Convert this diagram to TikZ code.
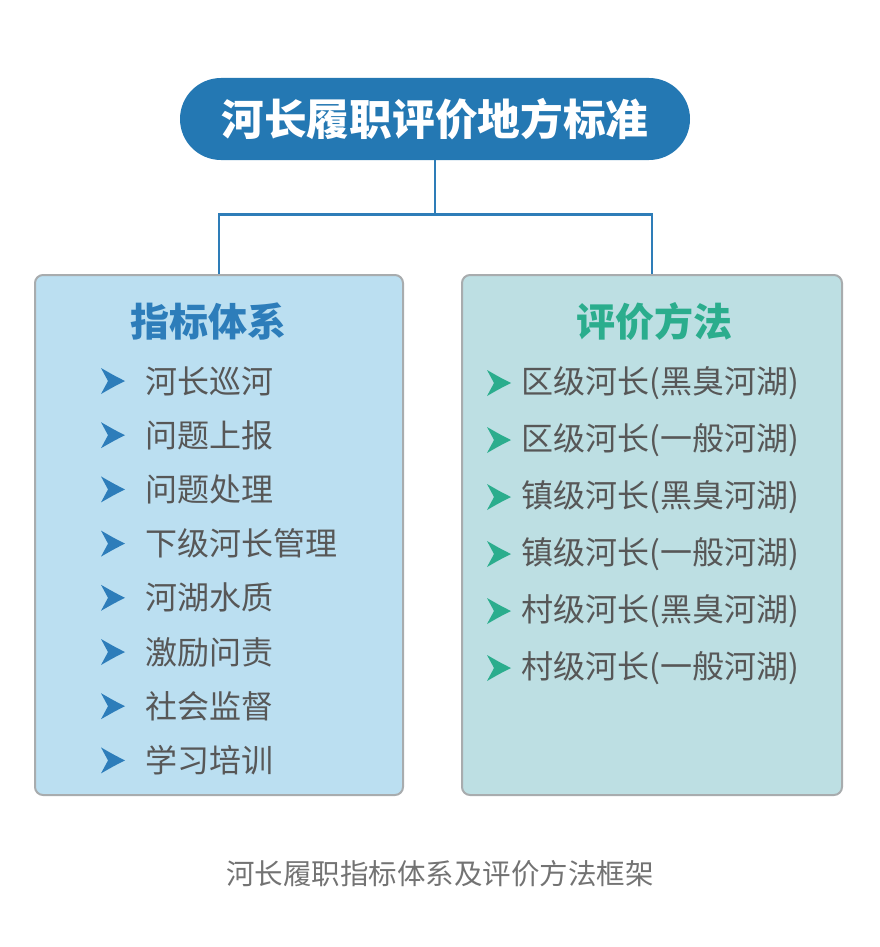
\documentclass[tikz,border=0pt]{standalone}
\usepackage{fontspec}
\setmainfont{Noto Sans CJK SC}
\definecolor{titleblue}{HTML}{2478B3}
\definecolor{linkblue}{HTML}{2E7DB8}
\definecolor{leftfill}{HTML}{BBDFF1}
\definecolor{rightfill}{HTML}{BDDFE3}
\definecolor{boxborder}{HTML}{A8ACAE}
\definecolor{headblue}{HTML}{2D7DBA}
\definecolor{headteal}{HTML}{2BAD8D}
\definecolor{itemgray}{HTML}{575757}
\definecolor{capgray}{HTML}{737373}
\tikzset{
  x=1pt, y=-1pt,
  titlebox/.style={fill=titleblue, rounded corners=41pt, minimum width=510pt, minimum height=82pt, inner sep=0pt,
    text=white, font=\fontsize{42.7}{48}\selectfont\bfseries},
  panel/.style={draw=boxborder, line width=2pt, rounded corners=8pt, inner sep=0pt},
  conn/.style={draw=linkblue, line width=2.6pt},
  heading/.style={font=\fontsize{39}{44}\selectfont\bfseries, inner sep=0pt},
  item/.style={font=\fontsize{32}{36}\selectfont, text=itemgray, anchor=west, inner sep=0pt},
  caption/.style={font=\fontsize{28.5}{32}\selectfont, text=capgray, inner sep=0pt},
  chev/.pic={\fill[#1] (12,0) .. controls (2,-5) .. (-12,-13) -- (-5,0) -- (-12,13) .. controls (2,5) .. (12,0) -- cycle;}
}
\begin{document}
\begin{tikzpicture}
\useasboundingbox (0,0) rectangle (880,947);
% title
\node[titlebox] (title) at (435,119) {河长履职评价地方标准};
% panels
\node[panel, fill=leftfill, minimum width=368pt, minimum height=520pt] (lb) at (219,535) {};
\node[panel, fill=rightfill, minimum width=380pt, minimum height=520pt] (rb) at (652,535) {};
% connectors
\draw[conn] (title.south) -- ++(0,54) coordinate (j);
\draw[conn] (j) -| (lb.north);
\draw[conn] (j) -| (rb.north);
% headings
\node[heading, text=headblue] (lh) at (208,322) {指标体系};
\node[heading, text=headteal] (rh) at (654,322) {评价方法};
% left items
\foreach \t [count=\i] in {河长巡河,问题上报,问题处理,下级河长管理,河湖水质,激励问责,社会监督,学习培训}{
  \pgfmathsetmacro{\yy}{381+54.2*(\i-1)}
  \pic at (113,\yy) {chev=headblue};
  \node[item] (li\i) at (145,\yy) {\t};
}
% right items
\foreach \t [count=\i] in {区级河长(黑臭河湖),区级河长(一般河湖),镇级河长(黑臭河湖),镇级河长(一般河湖),村级河长(黑臭河湖),村级河长(一般河湖)}{
  \pgfmathsetmacro{\yy}{383+57*(\i-1)}
  \pic at (499,\yy) {chev=headteal};
  \node[item] (ri\i) at (521,\yy) {\t};
}
% caption
\node[caption] (cap) at (440,874) {河长履职指标体系及评价方法框架};
\end{tikzpicture}
\end{document}
